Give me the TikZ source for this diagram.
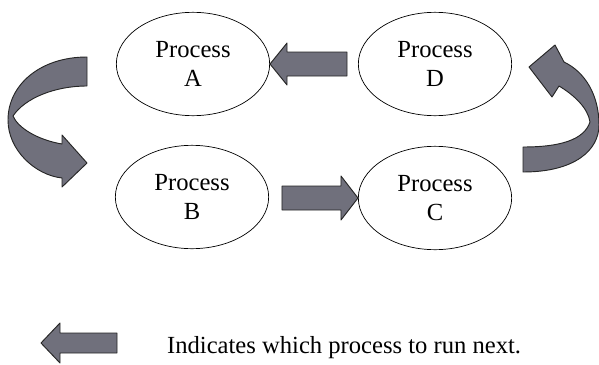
\documentclass[tikz,border=0pt]{standalone}
\usepackage{fontspec}
\setmainfont{Liberation Serif}
\usetikzlibrary{shapes.geometric}

\definecolor{arrowfill}{RGB}{112,112,124}

\tikzset{
  process/.style={draw, line width=0.6pt, ellipse, inner sep=0pt,
    minimum width=4.6cm, minimum height=3.1cm,
    align=center, font=\fontsize{21}{25}\selectfont},
  blockarrow/.style={draw=black!85, line width=0.8pt, fill=arrowfill, line join=round}
}

\begin{document}
\begin{tikzpicture}[x=0.03cm,y=-0.03cm]

  \useasboundingbox (0,0) rectangle (599,364);

  % Processes
  \node[process] (pa) at (193,64) {Process\\A};
  \node[process] (pd) at (435,64) {Process\\D};
  \node[process] (pb) at (192,197) {Process\\B};
  \node[process] (pc) at (435,198) {Process\\C};

  % Straight arrows
  \draw[blockarrow] (pa.east) -- ++(17,-21) -- ++(0,9) -- ++(60,0)
    -- ++(0,24) -- ++(-60,0) -- ++(0,9) -- cycle;
  \draw[blockarrow] (pc.west) -- ++(-17,-22) -- ++(0,10) -- ++(-59,0)
    -- ++(0,24) -- ++(59,0) -- ++(0,10) -- cycle;

  % A to B, curved
  \draw[blockarrow] (87,57) .. controls (40,57) and (8,85) .. (8,120)
    .. controls (8,150) and (35,175) .. (62,178) -- (62,187) -- (87,163)
    -- (62,135) -- (62,144) .. controls (38,140) and (18,128) .. (13,116)
    .. controls (25,98) and (55,86) .. (87,86) -- cycle;

  % C to D, curved
  \draw[blockarrow] (523,172) .. controls (575,172) and (599,150) .. (599,125)
    .. controls (599,95) and (585,72) .. (564,62) -- (555,45) -- (529,67)
    -- (552,97) -- (559,86) .. controls (574,95) and (588,108) .. (590,122)
    .. controls (584,140) and (560,147) .. (523,147) -- cycle;

  % Legend
  \draw[blockarrow] (41,343) -- (60,323) -- (60,333) -- (117,333)
    -- (117,353) -- (60,353) -- (60,363) -- cycle;
  \node[anchor=base west, font=\fontsize{21}{25}\selectfont] (legend)
    at (163,353) {Indicates which process to run next.};

\end{tikzpicture}
\end{document}
